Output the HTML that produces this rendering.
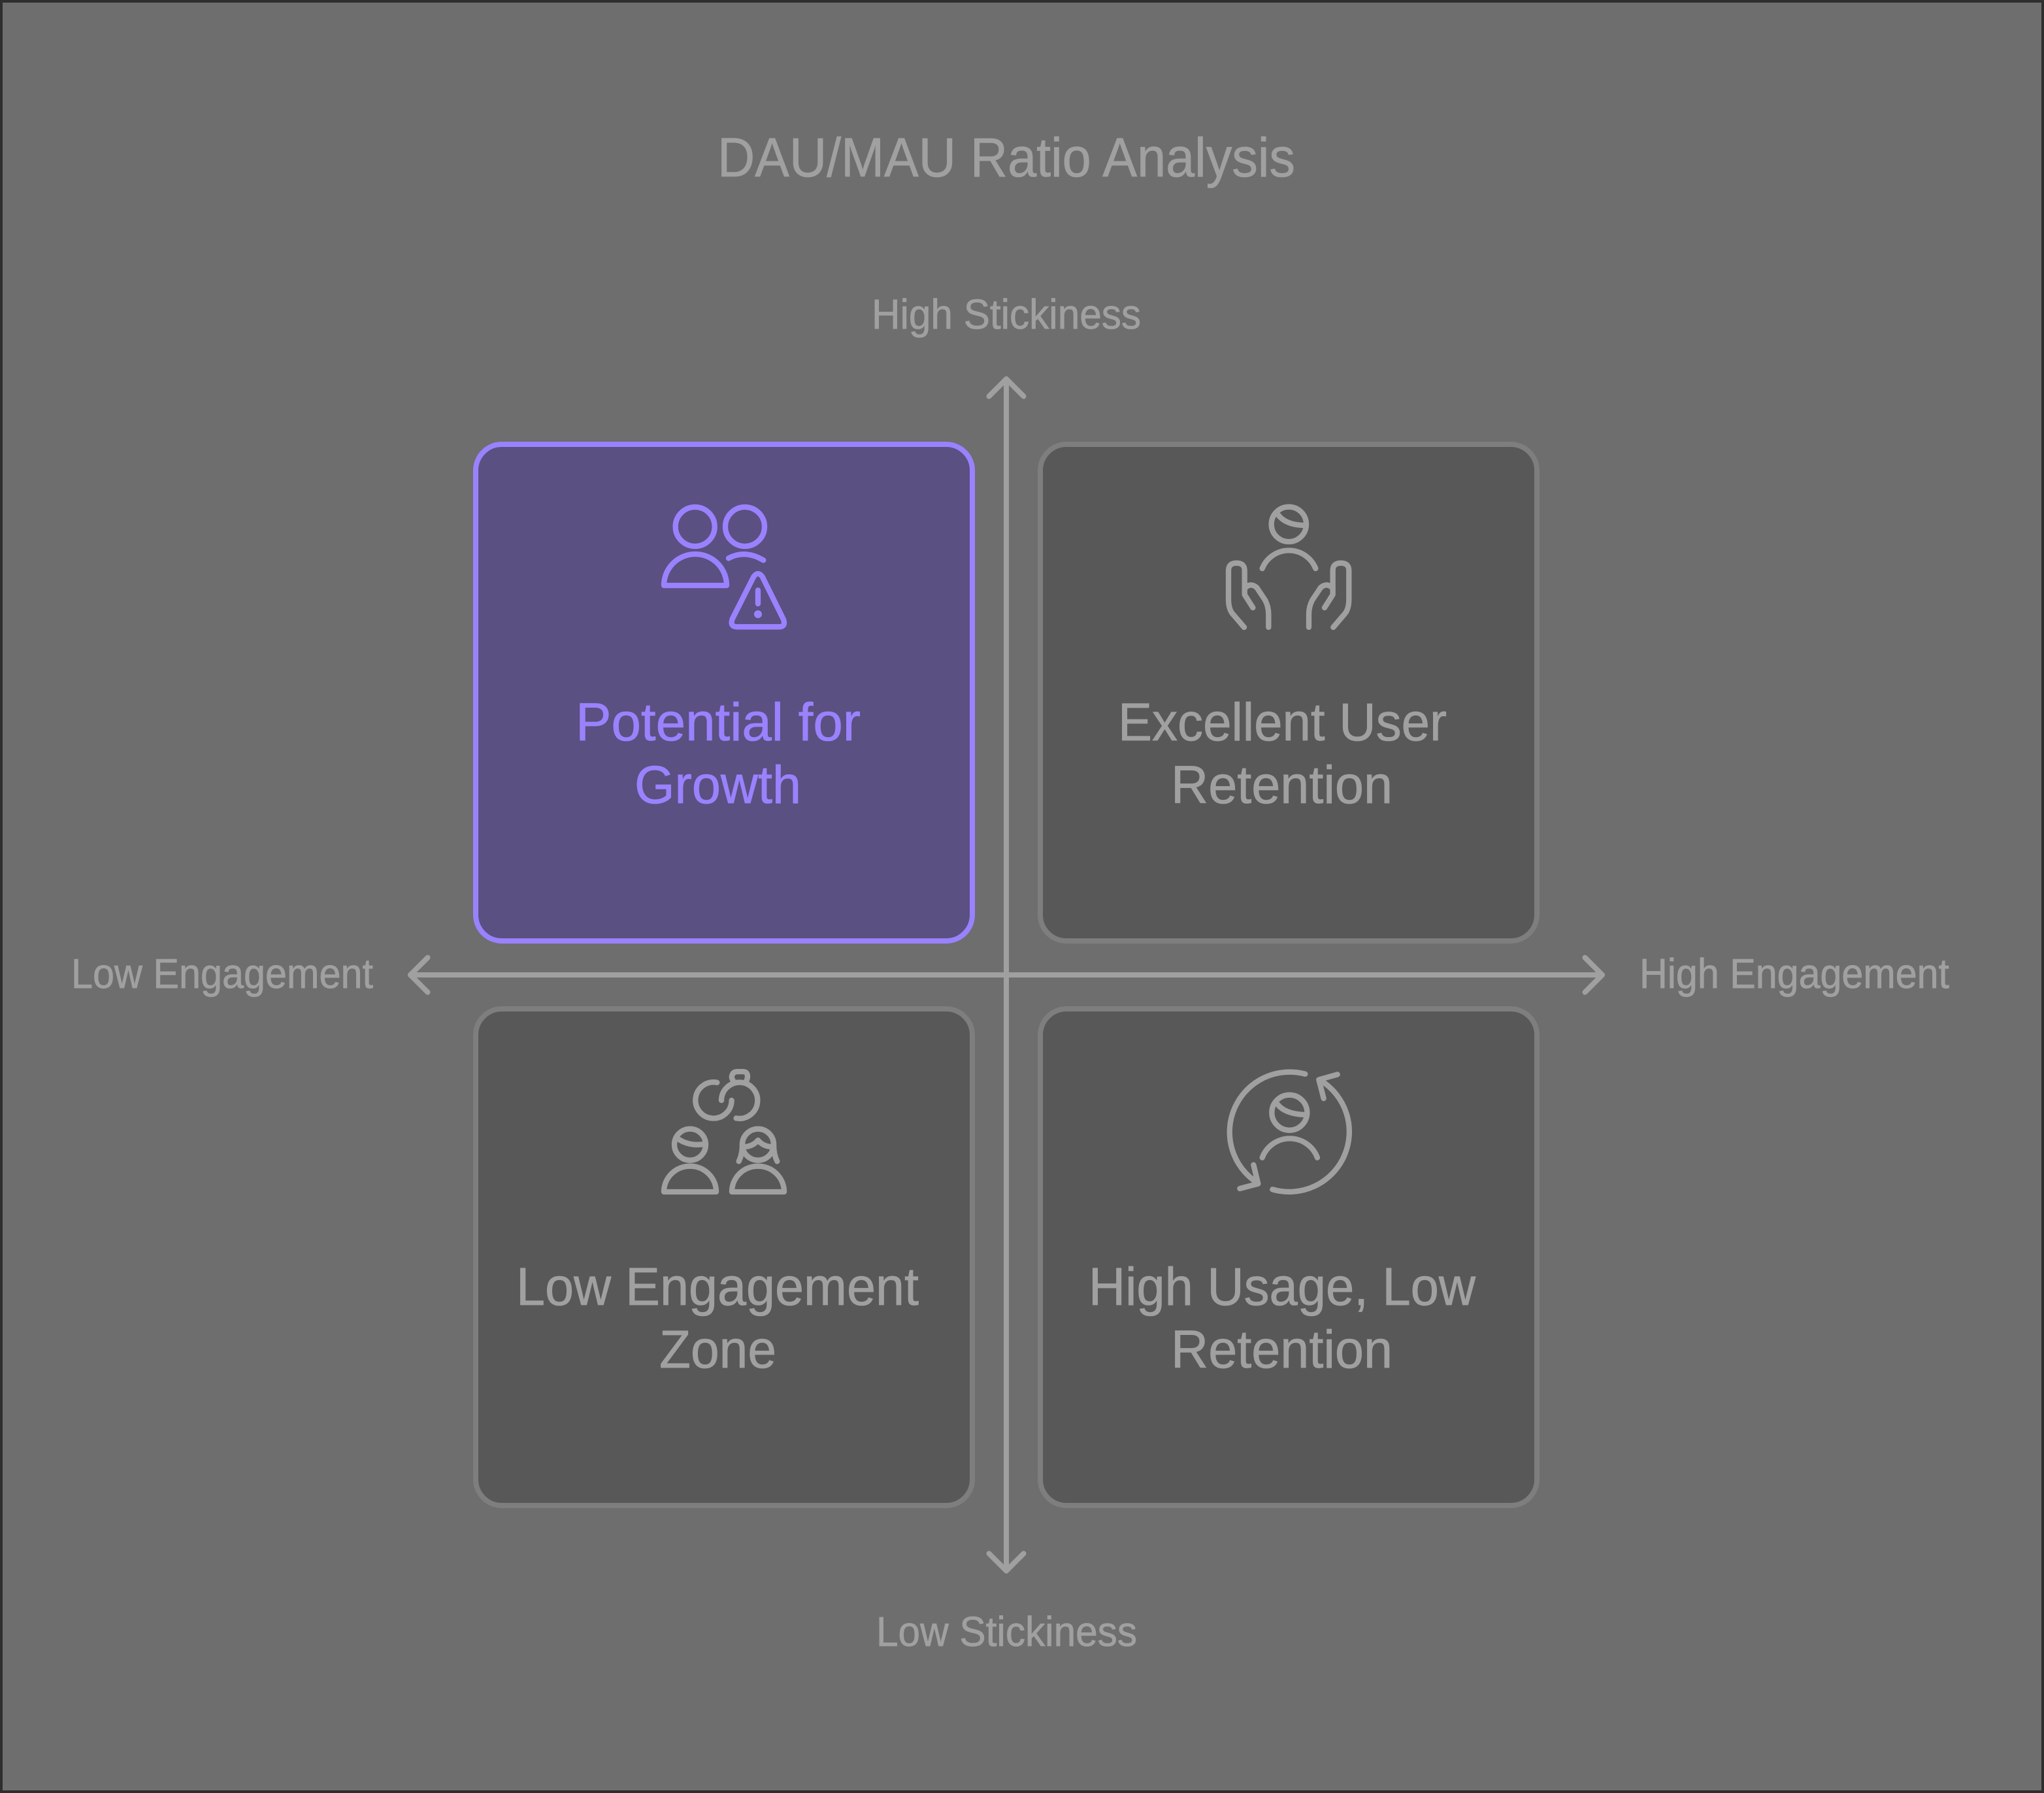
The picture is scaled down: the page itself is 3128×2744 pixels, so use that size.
<!DOCTYPE html>
<html><head><meta charset="utf-8"><style>html,body{margin:0;padding:0;background:#6e6e6e}svg{display:block}text{font-family:"Liberation Sans",sans-serif;fill:#a0a0a0;stroke:#a0a0a0;stroke-width:.8px}</style></head>
<body>
<svg xmlns="http://www.w3.org/2000/svg" width="3128" height="2744" viewBox="0 0 3128 2744">
<rect x="2" y="2" width="3124" height="2740" fill="#6e6e6e" stroke="#2e2e2e" stroke-width="4"/>
<text x="1098" y="270" font-size="84" textLength="884" lengthAdjust="spacingAndGlyphs">DAU/MAU Ratio Analysis</text>
<text x="1334" y="503" font-size="64" textLength="412" lengthAdjust="spacingAndGlyphs">High Stickiness</text>
<text x="1341" y="2519" font-size="64" textLength="399" lengthAdjust="spacingAndGlyphs">Low Stickiness</text>
<text x="109" y="1512" font-size="64" textLength="462" lengthAdjust="spacingAndGlyphs">Low Engagement</text>
<text x="2509" y="1512" font-size="64" textLength="474" lengthAdjust="spacingAndGlyphs">High Engagement</text>
<g stroke-width="8">
<rect x="728" y="680" width="760" height="760" rx="40" fill="#5a5082" stroke="#9a82ff"/>
<rect x="1592" y="680" width="760" height="760" rx="40" fill="#585858" stroke="#7e7e7e"/>
<rect x="728" y="1544" width="760" height="760" rx="40" fill="#585858" stroke="#7e7e7e"/>
<rect x="1592" y="1544" width="760" height="760" rx="40" fill="#585858" stroke="#7e7e7e"/>
</g>
<g fill="none" stroke="#a0a0a0" stroke-width="8" stroke-linecap="round" stroke-linejoin="round">
<path d="M1540 580V2404M628 1492H2452"/>
<path d="M1513.5 606.5L1540 580L1566.5 606.5M1513.5 2377.5L1540 2404L1566.5 2377.5M654.5 1465.5L628 1492L654.5 1518.5M2425.5 1465.5L2452 1492L2425.5 1518.5"/>
</g>
<g fill="none" stroke="#9a82ff" stroke-width="25" stroke-linecap="round" stroke-linejoin="round" transform="translate(980 740) scale(.3333)">
<circle cx="251" cy="198" r="90"/><circle cx="480" cy="198" r="90"/>
<path d="M108 468A144 144 0 0 1 396 468Z"/>
<path d="M405 343Q480 302 565 352"/>
<path d="M520 428Q540 400 560 428L656 622Q670 658 636 658L444 658Q410 658 422 622Z"/>
<path d="M540 490V552"/>
<circle cx="540" cy="600" r="18" fill="#9a82ff" stroke="none"/>
</g>
<g fill="none" stroke="#a0a0a0" stroke-width="25" stroke-linecap="round" stroke-linejoin="round" transform="translate(1850 740) scale(.3333)">
<circle cx="367" cy="187" r="80"/>
<path d="M315 140Q350 190 435 192"/>
<path d="M245 390A132 132 0 0 1 490 390"/>
<path d="M162 660L108 597Q90 575 90 530L90 400Q90 365 127 365Q164 365 164 400L164 510L202 570"/>
<path d="M164 482Q190 452 220 478L258 535Q274 565 274 600L274 660"/>
<path d="M571 660L625 597Q643 575 643 530L643 400Q643 365 606 365Q569 365 569 400L569 510L531 570"/>
<path d="M569 482Q543 452 513 478L475 535Q459 565 459 600L459 660"/>
</g>
<g fill="none" stroke="#a0a0a0" stroke-width="25" stroke-linecap="round" stroke-linejoin="round" transform="translate(980 1620) scale(.3333)">
<path d="M352 110A83 83 0 1 0 419 192"/>
<path d="M372 192A83 83 0 1 1 440 274"/>
<path d="M425 100Q418 90 420 80Q425 60 445 60L470 60Q492 60 492 82Q492 95 485 105"/>
<circle cx="228" cy="395" r="72"/>
<path d="M172 368Q225 405 300 392"/>
<path d="M108 612A120 118 0 0 1 348 612Z"/>
<circle cx="540" cy="395" r="72"/>
<path d="M452 472Q468 440 468 395A72 72 0 0 1 612 395Q612 440 628 472"/>
<path d="M475 405Q515 405 540 375Q565 405 605 405"/>
<path d="M420 612A120 118 0 0 1 660 612Z"/>
</g>
<g fill="none" stroke="#a0a0a0" stroke-width="25" stroke-linecap="round" stroke-linejoin="round" transform="translate(1850 1620) scale(.3333)">
<circle cx="370" cy="248" r="81"/>
<path d="M315 210Q350 255 440 258"/>
<path d="M245 455A135 135 0 0 1 498 455"/>
<path d="M442 71A276 276 0 0 0 222 570"/>
<path d="M292 601A276 276 0 0 0 512 100"/>
<path d="M205 488L226 575L142 597"/>
<path d="M590 73L505 97L527 183"/>
</g>
<g font-size="82">
<text x="881" y="1133" textLength="436" lengthAdjust="spacingAndGlyphs" style="fill:#9a82ff;stroke:#9a82ff">Potential for</text>
<text x="971" y="1229" textLength="255" lengthAdjust="spacingAndGlyphs" style="fill:#9a82ff;stroke:#9a82ff">Growth</text>
<text x="1711" y="1133" textLength="503" lengthAdjust="spacingAndGlyphs">Excellent User</text>
<text x="1792" y="1229" textLength="339" lengthAdjust="spacingAndGlyphs">Retention</text>
<text x="790" y="1997" textLength="616" lengthAdjust="spacingAndGlyphs">Low Engagement</text>
<text x="1009" y="2093" textLength="179" lengthAdjust="spacingAndGlyphs">Zone</text>
<text x="1666" y="1997" textLength="592" lengthAdjust="spacingAndGlyphs">High Usage, Low</text>
<text x="1792" y="2093" textLength="339" lengthAdjust="spacingAndGlyphs">Retention</text>
</g>
</svg>
</body></html>
